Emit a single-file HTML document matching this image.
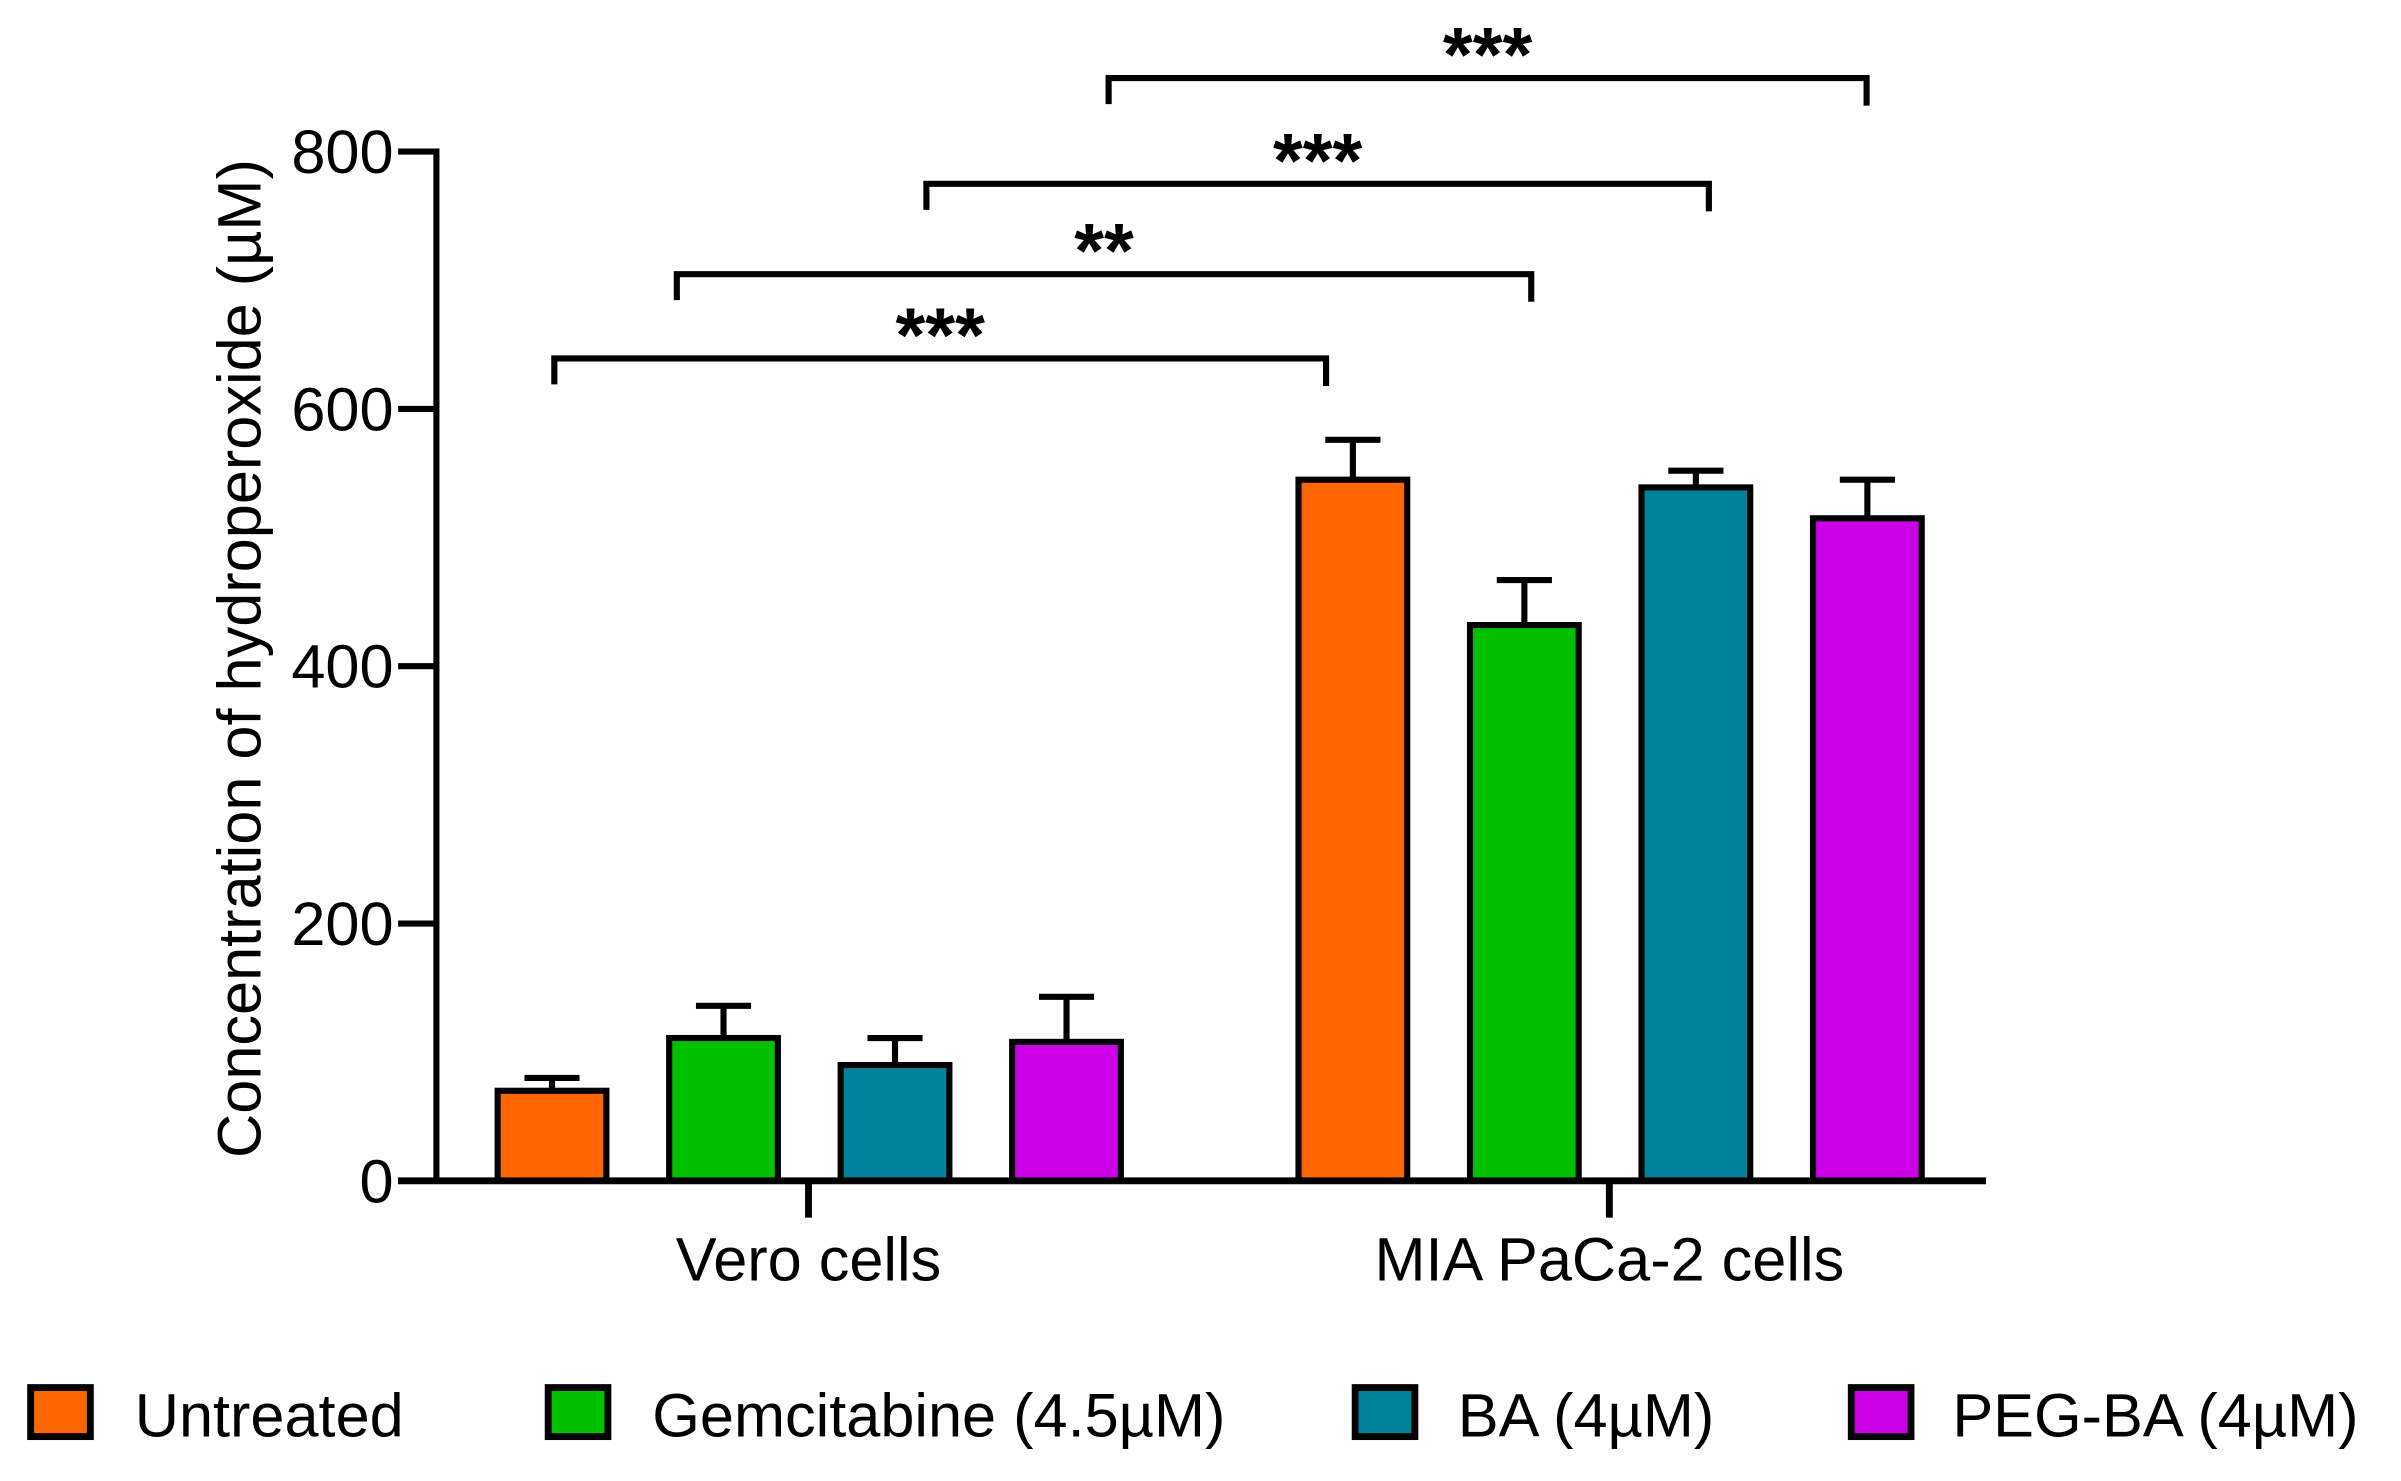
<!DOCTYPE html>
<html><head><meta charset="utf-8"><style>
html,body{margin:0;padding:0;background:#fff;}
svg{display:block;font-family:"Liberation Sans",Arial,sans-serif;}
</style></head><body>
<svg id="chart" width="2401" height="1481" viewBox="0 0 1568 967" preserveAspectRatio="none" xmlns="http://www.w3.org/2000/svg"></svg>
<script>
const groups = ["Vero cells", "MIA PaCa-2 cells"];
const seriesNames = ["Untreated", "Gemcitabine (4.5\u00b5M)", "BA (4\u00b5M)", "PEG-BA (4\u00b5M)"];
const veroValues = [70, 111, 90, 108];
const veroErrors = [10, 25, 21, 35];
const miaValues = [545, 432, 539, 515];
const miaErrors = [31, 35, 13, 30];
const yTicks = [0, 200, 400, 600, 800];
const sigLabels = ["***", "**", "***", "***"];
const sigPairs = [[0,4],[1,5],[2,6],[3,7]];

const colors = ["#ff6600", "#00c000", "#00829b", "#cc00e6"];
const svg = document.getElementById('chart');
const NS = "http://www.w3.org/2000/svg";
function mk(tag, attrs, parent) {
  const e = document.createElementNS(NS, tag);
  for (const k in attrs) e.setAttribute(k, attrs[k]);
  (parent || svg).appendChild(e);
  return e;
}
const y0 = 771, yTop = 99, yMax = 800;
const yS = v => y0 - (v / yMax) * (y0 - yTop);
const groupStart = [325, 848];
const barW = 71, barStep = 112;
const xBar = (g, i) => groupStart[g] + i * barStep;
const SW = 4;

let ax = mk('line', {x1: 285, y1: yTop - 2, x2: 285, y2: y0, stroke: '#000', 'stroke-width': SW});


yTicks.forEach(t => {
  const tk = mk('line', {x1: 260, y1: yS(t), x2: 285, y2: yS(t), stroke: '#000', 'stroke-width': SW});
  
  
  const tl = mk('text', {x: 257, y: yS(t) + 14, 'text-anchor': 'end', 'font-size': 40});
  tl.textContent = t;
  
  
});
const yt = mk('text', {x: 0, y: 0, 'text-anchor': 'middle', 'font-size': 40, transform: 'translate(170,430) rotate(-90)'});
yt.textContent = "Concentration of hydroperoxide (\u00b5M)";



const allVals = [veroValues, miaValues], allErr = [veroErrors, miaErrors];
for (let g = 0; g < 2; g++) {
  for (let i = 0; i < 4; i++) {
    const v = allVals[g][i], e = allErr[g][i];
    const x = xBar(g, i), cx = x + barW / 2;
    const el = mk('line', {x1: cx, y1: yS(v), x2: cx, y2: yS(v + e), stroke: '#000', 'stroke-width': SW});
    
    
    const cap = mk('line', {x1: cx - 18, y1: yS(v + e), x2: cx + 18, y2: yS(v + e), stroke: '#000', 'stroke-width': SW});
    
    
    const r = mk('rect', {x: x, y: yS(v), width: barW, height: y0 - yS(v), fill: colors[i], stroke: '#000', 'stroke-width': SW});
    
    
  }
}
let xa = mk('line', {x1: 260, y1: y0, x2: 1297, y2: y0, stroke: '#000', 'stroke-width': SW + 0.5});


[528, 1051].forEach((gx, g) => {
  const tk = mk('line', {x1: gx, y1: y0, x2: gx, y2: 795, stroke: '#000', 'stroke-width': SW + 0.5});
  
  
  const tl = mk('text', {x: gx, y: 836, 'text-anchor': 'middle', 'font-size': 40});
  tl.textContent = groups[g];
  
  
});

const brY = [234, 179, 120, 51];
const brX = [[362, 866], [442, 1000], [605, 1116], [724, 1219]];
sigPairs.forEach((p, k) => {
  const [xa1, xb] = brX[k];
  const yb = brY[k];
  const b = mk('path', {d: `M${xa1},${yb + 17} V${yb} H${xb} V${yb + 18}`, fill: 'none', stroke: '#000', 'stroke-width': SW});
  
  
  const s = mk('text', {x: (xa1 + xb) / 2, y: yb + 2, 'text-anchor': 'middle', 'font-size': 50, 'font-weight': 'bold'});
  s.textContent = sigLabels[k];
  
  
});

const legBox = [20, 358, 885, 1209];
const legText = [88, 426, 952, 1275];
seriesNames.forEach((n, i) => {
  const r = mk('rect', {x: legBox[i], y: 906, width: 39, height: 32, fill: colors[i], stroke: '#000', 'stroke-width': SW + 0.5});
  
  
  const t = mk('text', {x: legText[i], y: 938, 'font-size': 40});
  t.textContent = n;
  
  
});
</script>
</body></html>
